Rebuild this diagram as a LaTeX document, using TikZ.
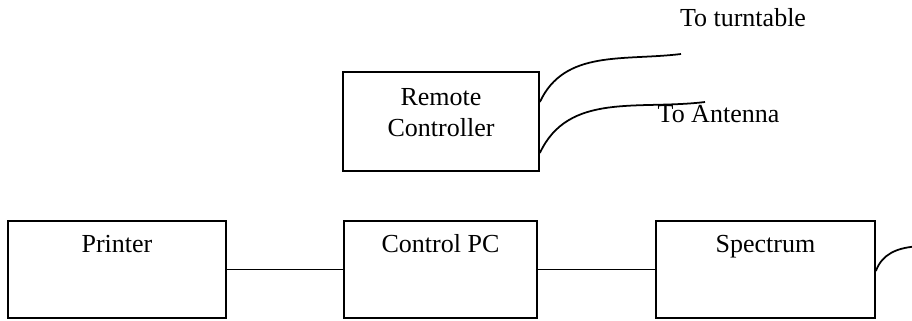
\documentclass[tikz,border=0pt]{standalone}
\usepackage{fontspec}
\setmainfont{Liberation Serif}
\tikzstyle{box} = [rectangle, draw=black, line width=1pt, inner xsep=0, inner ysep=0, text centered]
\tikzstyle{unit} = [box, minimum height=1.94cm, text height=0.62cm, text depth=1.32cm]
\tikzstyle{note} = [inner sep=0, anchor=base]
\tikzstyle{wire} = [line width=1pt]

\begin{document}
\begin{tikzpicture}[font=\fontsize{14.8}{17.8}\selectfont]
\useasboundingbox (0,0) rectangle (18.24,6.4);
\node[box, minimum width=3.92cm, minimum height=1.98cm] (remote) at (8.82,3.97)
  {\begin{tabular}{@{}c@{}}Remote\\Controller\\[0.26cm]\end{tabular}};
\node[unit, minimum width=4.36cm] (printer) at (2.34,1.01) {Printer};
\node[unit, minimum width=3.86cm] (pc) at (8.81,1.01) {Control PC};
\node[unit, minimum width=4.38cm] (spectrum) at (15.31,1.01) {Spectrum};
\node[note] (turntable) at (14.86,5.88) {To turntable};
\node[note] (antenna) at (14.37,3.96) {To Antenna};
\coordinate (turnend) at (13.62,5.32);
\coordinate (antend) at (14.1,4.36);
\coordinate (specend) at (18.3,1.47);
\draw[wire] (printer.east)--(pc.west);
\draw[wire] (pc.east)--(spectrum.west);
\draw[wire] ([yshift=0.39cm]remote.east) to[out=65,in=187] (turnend);
\draw[wire] ([yshift=-0.63cm]remote.east) to[out=65,in=187] (antend);
\draw[wire] ([yshift=-0.03cm]spectrum.east) to[out=70,in=185] (specend);
\end{tikzpicture}
\end{document}
